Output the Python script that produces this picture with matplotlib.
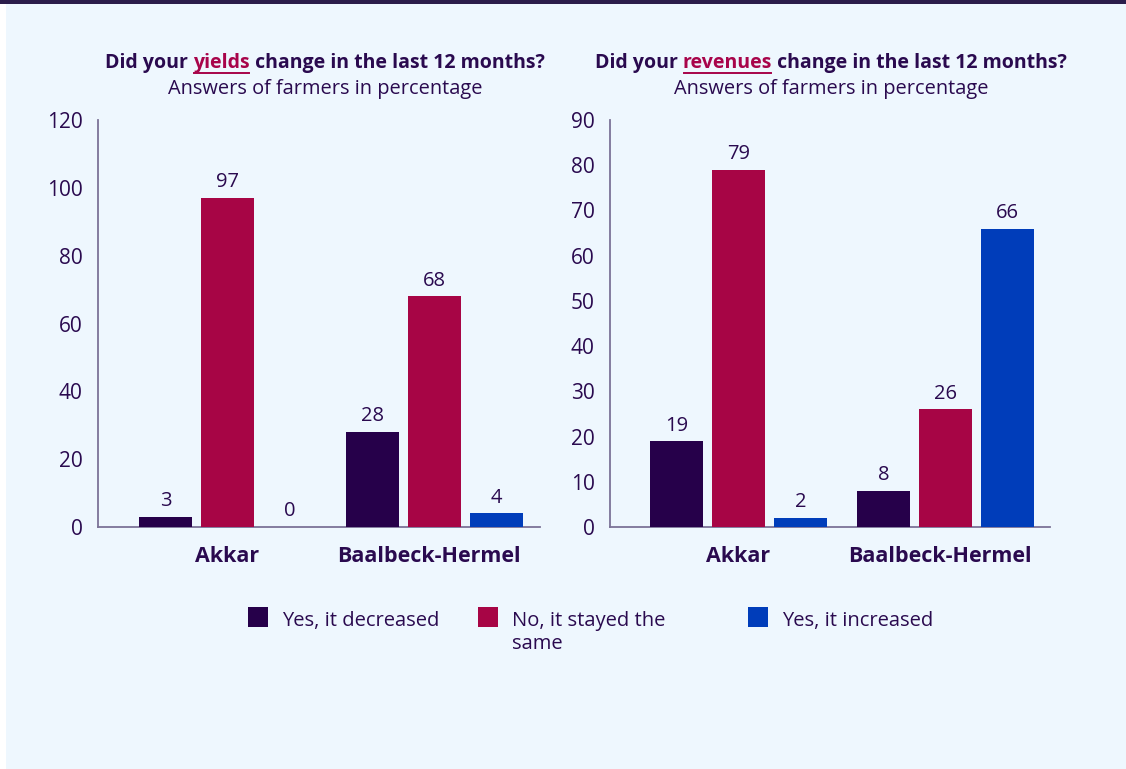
import matplotlib
matplotlib.use('Agg')
import matplotlib.pyplot as plt
from matplotlib.patches import Rectangle
from matplotlib.lines import Line2D
import numpy as np

plt.rcParams['font.family'] = ['Open Sans', 'Noto Sans', 'DejaVu Sans']

# ---- data ----
regions = ['Akkar', 'Baalbeck-Hermel']
answers = ['Yes, it decreased', 'No, it stayed the\nsame', 'Yes, it increased']
yields_decreased = [3, 28]
yields_same = [97, 68]
yields_increased = [0, 4]
revenues_decreased = [19, 8]
revenues_same = [79, 26]
revenues_increased = [2, 66]

# ---- style ----
BG = '#eef7fe'
TXT = '#2a0a4f'
SPINE = '#7b7397'
ACCENT = '#a8044a'
COLORS = ['#26004a', '#a70545', '#003dba']

W, H = 1126, 769
fig = plt.figure(figsize=(W / 100, H / 100), dpi=100, facecolor='white')

# panel background + top band
fig.patches.append(Rectangle((6 / W, 0), 1 - 6 / W, 1, transform=fig.transFigure,
                             facecolor=BG, edgecolor='none', zorder=-10))
fig.patches.append(Rectangle((0, 1 - 4 / H), 1, 4 / H, transform=fig.transFigure,
                             facecolor='#2b1d4b', edgecolor='none', zorder=-9))


def px_box(x0, x1, y_top, y_bot):
    return [x0 / W, 1 - y_bot / H, (x1 - x0) / W, (y_bot - y_top) / H]


def bar_panel(rect, series, ymax, ystep, xlim):
    ax = fig.add_axes(rect)
    ax.set_facecolor('none')
    x = np.arange(len(regions))
    offsets = [-0.3, 0.0, 0.3]
    for vals, off, col in zip(series, offsets, COLORS):
        bars = ax.bar(x + off, vals, width=0.256, color=col, zorder=3)
        for b, v in zip(bars, vals):
            ax.annotate(f'{v}', (b.get_x() + b.get_width() / 2, v),
                        xytext=(0, 4), textcoords='offset points',
                        ha='center', va='bottom', fontsize=14.5, color=TXT)
    ax.set_ylim(0, ymax)
    ax.set_yticks(np.arange(0, ymax + 1, ystep))
    ax.set_xlim(*xlim)
    # category labels sit a touch left of the bar groups
    ax.set_xticks(x - np.array([0.0, 0.025]))
    ax.set_xticklabels(regions, fontsize=15.5, fontweight='bold', color=TXT)
    ax.tick_params(axis='x', length=0, pad=14)
    ax.tick_params(axis='y', length=0, pad=11, labelsize=15, labelcolor=TXT)
    for s in ['top', 'right']:
        ax.spines[s].set_visible(False)
    for s in ['left', 'bottom']:
        ax.spines[s].set_color(SPINE)
        ax.spines[s].set_linewidth(1.3)
    return ax


bar_panel(px_box(98, 540, 120, 527),
          [yields_decreased, yields_same, yields_increased],
          120, 20, (-0.626, 1.51))
bar_panel(px_box(610, 1050, 120, 527),
          [revenues_decreased, revenues_same, revenues_increased],
          90, 10, (-0.621, 1.505))


def rich_title(cx, cy, parts, size=14):
    """Bold title built from coloured pieces, centred on cx (px); coloured word underlined."""
    texts = []
    for s, col in parts:
        t = fig.text(0, 1 - cy / H, s, fontsize=size, fontweight='bold',
                     color=col, ha='left', va='center')
        texts.append(t)
    fig.canvas.draw()
    r = fig.canvas.get_renderer()
    widths = [t.get_window_extent(r).width for t in texts]
    x = cx - sum(widths) / 2
    for t, w, (s, col) in zip(texts, widths, parts):
        t.set_x(x / W)
        if col == ACCENT:
            fig.lines.append(Line2D([(x + 1) / W, (x + w - 1) / W],
                                    [1 - (cy + 10) / H] * 2, transform=fig.transFigure,
                                    color=ACCENT, lw=1.4))
        x += w


rich_title(325, 63, [('Did your ', TXT), ('yields', ACCENT),
                     (' change in the last 12 months?', TXT)])
rich_title(831, 63, [('Did your ', TXT), ('revenues', ACCENT),
                     (' change in the last 12 months?', TXT)])
fig.text(325 / W, 1 - 89 / H, 'Answers of farmers in percentage', fontsize=14.4,
         color=TXT, ha='center', va='center')
fig.text(831 / W, 1 - 89 / H, 'Answers of farmers in percentage', fontsize=14.4,
         color=TXT, ha='center', va='center')

# legend
for lx, label, col in zip([248, 478, 748], answers, COLORS):
    fig.patches.append(Rectangle((lx / W, 1 - 627 / H), 20 / W, 20 / H,
                                 transform=fig.transFigure, facecolor=col,
                                 edgecolor='none'))
    fig.text((lx + 34) / W, 1 - 611 / H, label, fontsize=14.5, color=TXT,
             ha='left', va='top', linespacing=1.2)

fig.savefig('out.png', dpi=100, facecolor='white')
